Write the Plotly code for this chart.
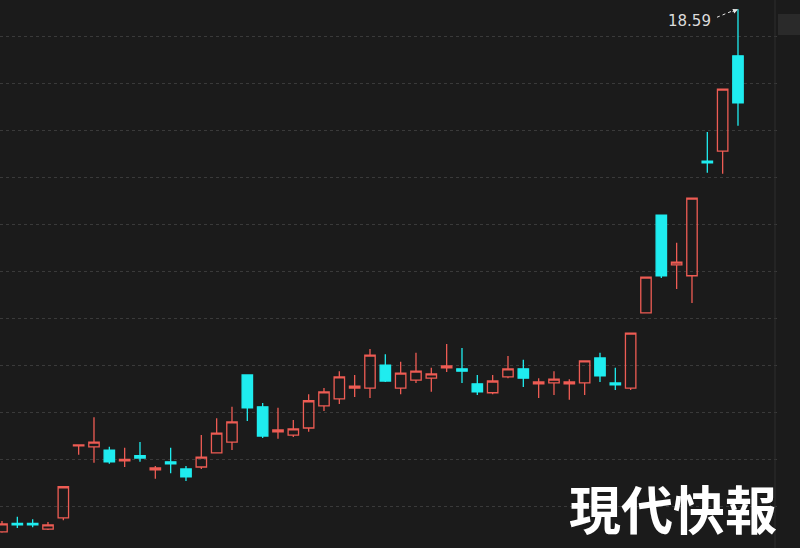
import plotly.graph_objects as go

# Daily candles (price, yuan)
day = list(range(49))
open_ = [7.47, 7.65, 7.65, 7.53, 7.77, 9.30, 9.28, 9.21, 8.98, 9.09,
         8.79, 8.96, 8.81, 8.85, 9.15, 9.38, 10.81, 10.13, 9.60, 9.53,
         9.68, 10.15, 10.30, 10.53, 10.53, 11.02, 10.53, 10.70, 10.74, 10.96,
         10.94, 10.62, 10.43, 10.77, 10.94, 10.62, 10.64, 10.62, 10.64, 11.17,
         10.64, 10.53, 12.13, 14.21, 13.15, 12.92, 15.36, 15.57, 17.60]
close = [7.64, 7.62, 7.62, 7.62, 8.43, 9.32, 9.38, 8.96, 9.01, 9.04,
         8.83, 8.92, 8.64, 9.06, 9.57, 9.81, 10.11, 9.51, 9.64, 9.66,
         10.26, 10.45, 10.77, 10.57, 11.23, 10.68, 10.85, 10.89, 10.83, 11.00,
         10.89, 10.45, 10.68, 10.94, 10.74, 10.66, 10.72, 10.66, 11.11, 10.79,
         10.60, 11.70, 12.89, 12.92, 13.21, 14.57, 15.32, 16.89, 16.60]
high = [7.70, 7.79, 7.74, 7.68, 8.43, 9.32, 9.91, 9.28, 9.26, 9.38,
        8.87, 9.26, 8.87, 9.53, 9.89, 10.13, 10.81, 10.21, 10.11, 9.85,
        10.40, 10.53, 10.89, 10.81, 11.36, 11.25, 11.09, 11.28, 10.96, 11.47,
        11.38, 10.81, 10.81, 11.21, 11.13, 10.74, 10.89, 10.72, 11.11, 11.28,
        10.96, 11.70, 12.89, 14.21, 13.62, 14.57, 15.98, 16.89, 18.59]
low = [7.45, 7.55, 7.57, 7.51, 7.72, 9.11, 8.94, 8.92, 8.85, 8.96,
       8.60, 8.72, 8.55, 8.81, 9.15, 9.21, 9.83, 9.47, 9.45, 9.49,
       9.60, 10.04, 10.19, 10.34, 10.32, 10.66, 10.40, 10.64, 10.45, 10.87,
       10.64, 10.38, 10.40, 10.74, 10.55, 10.32, 10.38, 10.28, 10.38, 10.66,
       10.49, 10.49, 12.13, 12.87, 12.64, 12.34, 15.11, 15.09, 16.11]

BG = "#1b1b1b"
RED = "#ee5c54"
CYAN = "#1fecef"

fig = go.Figure()
fig.add_trace(go.Candlestick(
    x=day, open=open_, high=high, low=low, close=close,
    increasing=dict(line=dict(color=RED, width=1.3), fillcolor="rgba(0,0,0,0)"),
    decreasing=dict(line=dict(color=CYAN, width=1.3), fillcolor=CYAN),
    whiskerwidth=0,
    hoverinfo="skip",
    showlegend=False,
))

imax = high.index(max(high))
hmax = high[imax]

# dotted leader to the maximum
fig.add_shape(type="line", xref="x", yref="y",
              xsizemode="pixel", ysizemode="pixel",
              xanchor=day[imax], yanchor=hmax,
              x0=-21, y0=-8, x1=-4, y1=-1,
              line=dict(color="#e8e8e8", width=1, dash="dot"))
fig.add_annotation(x=day[imax], y=hmax, text="", showarrow=True,
                   arrowhead=2, arrowsize=1, arrowwidth=1, arrowcolor="#e8e8e8",
                   ax=-7, ay=3, standoff=0)
fig.add_annotation(x=day[imax], y=hmax, text=f"{hmax:.2f}", showarrow=False,
                   xanchor="right", yanchor="middle", xshift=-25, yshift=-12,
                   font=dict(family="DejaVu Sans", size=15, color="#dcdcdc"))

# right separator and small button (paper spans the full 800 px width)
fig.add_shape(type="line", xref="paper", yref="paper", x0=775/800, x1=775/800,
              y0=0, y1=1, line=dict(color="#2e2e2e", width=1))
fig.add_shape(type="rect", xref="paper", yref="paper", x0=778/800, x1=1,
              y0=1 - 35/548, y1=1 - 14/548, line=dict(width=0), fillcolor="#2a2a2a")

# watermark
fig.add_annotation(xref="paper", yref="paper", x=673/800, y=1 - 507/548,
                   text="<b>現代快報</b>", showarrow=False,
                   xanchor="center", yanchor="middle",
                   font=dict(family="Noto Sans CJK TC", size=52, color="#ffffff"))

fig.update_layout(
    width=800, height=548,
    margin=dict(l=0, r=0, t=0, b=0),
    paper_bgcolor=BG, plot_bgcolor=BG,
    boxgap=0.15, boxgroupgap=0.2,
    xaxis=dict(domain=[0, 780/800], range=[-0.13, 50.74],
               showgrid=False, zeroline=False, showticklabels=False,
               rangeslider=dict(visible=False), fixedrange=True),
    yaxis=dict(range=[7.127, 18.787], tick0=0, dtick=1,
               showgrid=True, gridcolor="#3a3a3a", gridwidth=1, griddash="dot",
               zeroline=False, showticklabels=False, fixedrange=True),
    hovermode=False,
)

fig.write_html("out.html", config=dict(displayModeBar=False),
               post_script="document.body.style.margin='0';"
                           "document.body.style.overflow='hidden';"
                           "document.body.style.background='#1b1b1b';")
